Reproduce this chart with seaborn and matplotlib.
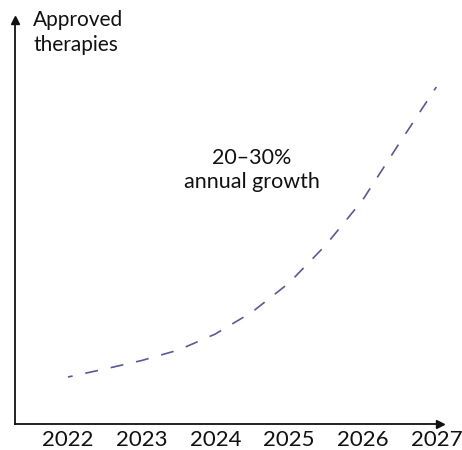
import seaborn as sns
import matplotlib.pyplot as plt

# curve at half-year steps
years = [2022, 2022.5, 2023, 2023.5, 2024, 2024.5, 2025, 2025.5, 2026, 2026.5, 2027]
therapies = [47, 55, 63.5, 74, 90, 112, 141, 179, 224, 281, 337]
tick_years = [2022, 2023, 2024, 2025, 2026, 2027]
tick_labels = ["2022", "2023", "2024", "2025", "2026", "2027"]

sns.set_theme(style="white")
plt.rcParams['font.family'] = ['Lato', 'DejaVu Sans']

fig = plt.figure(figsize=(4.62, 4.5), dpi=100)
ax = fig.add_axes([15 / 462, 1 - 424 / 450, 425 / 462, 404 / 450])

sns.lineplot(x=years, y=therapies, ax=ax, color="#5a579c", linewidth=1.2,
             linestyle=(5, (7.8, 7.8)))

ax.set_xlim(2021.28, 2027.05)
ax.set_ylim(0, 404)
ax.set_xticks(tick_years)
ax.set_xticklabels(tick_labels, fontsize=16, color="#111111")
ax.set_yticks([])
ax.tick_params(axis="x", length=0, pad=4)
for s in ["top", "right"]:
    ax.spines[s].set_visible(False)
for s in ["left", "bottom"]:
    ax.spines[s].set_color("#111111")
    ax.spines[s].set_linewidth(1.3)

# arrow heads
ax.plot(1, 0, ">", color="#111111", markersize=6, transform=ax.transAxes, clip_on=False)
ax.plot(0, 1, "^", color="#111111", markersize=6, transform=ax.transAxes, clip_on=False)

fig.text(33 / 462, 1 - 10 / 450, "Approved\ntherapies", fontsize=15, va="top",
         ha="left", color="#111111", linespacing=1.3)
ax.text(2024.5, 254, "20–30%\nannual growth", fontsize=15.5, ha="center",
        va="center", color="#111111", linespacing=1.25)

fig.savefig("out.png", dpi=100)
